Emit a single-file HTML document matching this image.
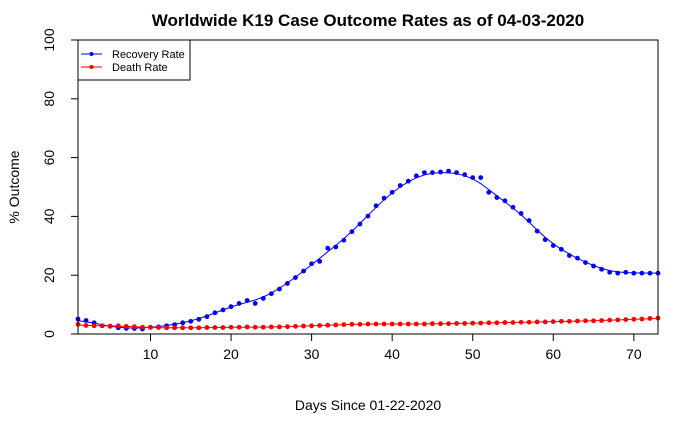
<!DOCTYPE html>
<html><head><meta charset="utf-8"><style>
body{margin:0;background:#fff;}
svg{display:block;font-family:"Liberation Sans",Arial,sans-serif;}
</style></head><body>
<svg id="chart" width="700" height="432" viewBox="0 0 700 432" xmlns="http://www.w3.org/2000/svg">
<rect width="700" height="432" fill="#fff"/>
<text x="368" y="26" text-anchor="middle" font-size="17" font-weight="bold">Worldwide K19 Case Outcome Rates as of 04-03-2020</text>
<text x="368" y="410" text-anchor="middle" font-size="14">Days Since 01-22-2020</text>
<text transform="translate(19,187) rotate(-90)" text-anchor="middle" font-size="14">% Outcome</text>
<g id="axes"></g>
<g id="marks"></g>
<rect x="78" y="40" width="580" height="294" fill="none" stroke="#000" stroke-width="1"/>
<g>
<rect x="78" y="40" width="112" height="40" fill="#fff" stroke="#000" stroke-width="1"/>
<line x1="81" y1="54" x2="102" y2="54" stroke="#00f"/><circle cx="91.5" cy="54" r="2" fill="#00f"/>
<text x="112" y="58" font-size="11">Recovery Rate</text>
<line x1="81" y1="67" x2="102" y2="67" stroke="#f00"/><circle cx="91.5" cy="67" r="2" fill="#f00"/>
<text x="112" y="71" font-size="11">Death Rate</text>
</g>
</svg>
<script>
const days = Array.from({length:73},(_,i)=>i+1);
const recoveryRate = [5.1,4.6,3.8,2.8,2.6,2.1,1.9,1.9,1.7,2.3,2.4,2.8,3.2,3.8,4.3,5.0,5.9,7.2,8.2,9.3,10.4,11.4,10.4,12.1,13.7,15.3,17.2,19.2,21.4,23.9,24.7,29.2,29.6,31.9,34.8,37.4,40.1,43.6,46.2,48.2,50.5,52.0,53.8,54.9,54.9,55.1,55.4,54.9,54.2,53.2,53.2,48.2,46.4,45.3,43.1,41.0,38.6,35.0,32.1,30.1,28.8,26.7,25.8,24.3,23.1,22.0,21.0,20.7,21.0,20.7,20.7,20.7,20.7];
const deathRate = [3.3,2.9,2.8,2.8,2.7,2.8,2.6,2.5,2.3,2.2,2.2,2.1,2.1,2.1,2.1,2.1,2.2,2.2,2.2,2.3,2.3,2.4,2.3,2.3,2.4,2.4,2.5,2.6,2.7,2.8,2.9,3.0,3.1,3.2,3.3,3.3,3.4,3.4,3.4,3.4,3.4,3.4,3.4,3.4,3.5,3.5,3.5,3.6,3.6,3.7,3.7,3.8,3.8,3.9,3.9,4.0,4.0,4.1,4.1,4.2,4.3,4.3,4.4,4.5,4.5,4.6,4.7,4.8,4.9,5.0,5.1,5.3,5.4];
const xTicks = [10,20,30,40,50,60,70];
const yTicks = [0,20,40,60,80,100];
const xs = d => 78 + (d-1)*(580/72);
const ys = v => 334 - v*2.94;
const NS="http://www.w3.org/2000/svg";
function mk(tag,attrs,parent){const e=document.createElementNS(NS,tag);for(const k in attrs)e.setAttribute(k,attrs[k]);parent.appendChild(e);return e;}
const axes=document.getElementById('axes'), marks=document.getElementById('marks');
xTicks.forEach(t=>{
  const l=mk('line',{x1:xs(t),x2:xs(t),y1:334,y2:341,stroke:'#000'},axes);
  
  
  const tx=mk('text',{x:xs(t),y:359,'text-anchor':'middle','font-size':14},axes);tx.textContent=t;
  
  
});
yTicks.forEach(t=>{
  const l=mk('line',{x1:71,x2:78,y1:ys(t),y2:ys(t),stroke:'#000'},axes);
  
  
  const tx=mk('text',{x:0,y:0,transform:`translate(54,${ys(t)}) rotate(-90)`,'text-anchor':'middle','font-size':14},axes);tx.textContent=t;
  
  
});
function smooth(vals,bw){return days.map((d,i)=>{let s=0,w=0;days.forEach((e,j)=>{const k=Math.exp(-((d-e)**2)/(2*bw*bw));s+=k*vals[j];w+=k;});return s/w;});}
function series(vals,color,name){
  const sm=smooth(vals,1.6);
  const p=mk('path',{d:sm.map((v,i)=>(i?'L':'M')+xs(days[i]).toFixed(1)+','+ys(v).toFixed(1)).join(''),fill:'none',stroke:color,'stroke-width':1},marks);
  
  
  vals.forEach((v,i)=>{
    const c=mk('circle',{cx:xs(days[i]),cy:ys(v),r:2.4,fill:color},marks);
    
    
  });
}
series(recoveryRate,'#0000ff','recovery');
series(deathRate,'#ff0000','death');
</script>
</body></html>
